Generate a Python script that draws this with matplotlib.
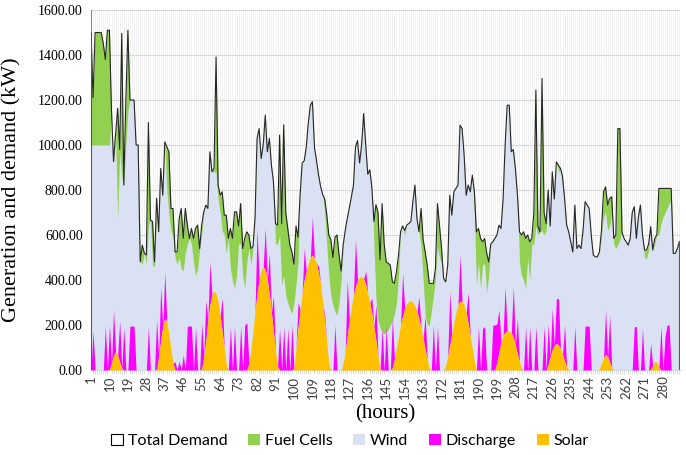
import numpy as np
import matplotlib
matplotlib.use("Agg")
import matplotlib.pyplot as plt
from matplotlib.patches import Patch

# hourly values (kW), one row per day
total_demand = np.array(
    [1500, 1210, 1500, 1500, 1500, 1500, 1450, 1380, 1510, 1510, 1150, 926, 1050, 1163, 980, 1496, 822, 1200, 1510, 1200, 1200, 1200, 1000, 1000]
    + [481, 555, 520, 511, 1100, 667, 660, 481, 763, 615, 896, 777, 1014, 992, 970, 718, 718, 525, 525, 673, 718, 585, 718, 644]
    + [585, 629, 585, 629, 644, 540, 644, 703, 733, 718, 970, 881, 896, 1391, 822, 777, 792, 688, 688, 585, 629, 585, 703, 703]
    + [640, 740, 540, 585, 614, 600, 540, 548, 673, 1029, 1073, 940, 1000, 1133, 970, 1029, 910, 836, 651, 644, 1044, 650, 1090, 700]
    + [629, 555, 525, 470, 640, 590, 780, 920, 930, 990, 1100, 1177, 1192, 990, 930, 866, 815, 780, 760, 690, 600, 580, 500, 590]
    + [600, 511, 440, 555, 620, 673, 720, 770, 820, 990, 1020, 920, 1000, 1140, 1000, 870, 890, 810, 660, 735, 700, 490, 740, 560]
    + [480, 474, 466, 392, 385, 437, 511, 614, 640, 620, 644, 651, 659, 748, 822, 673, 614, 718, 580, 525, 466, 385, 385, 385]
    + [451, 740, 640, 540, 407, 392, 466, 777, 688, 792, 807, 822, 1088, 1073, 955, 777, 822, 792, 866, 792, 614, 629, 585, 570]
    + [585, 520, 480, 560, 570, 585, 600, 644, 629, 760, 1000, 1177, 1177, 970, 980, 896, 780, 614, 600, 614, 585, 600, 570, 585]
    + [700, 1244, 640, 614, 1296, 700, 650, 800, 640, 881, 760, 925, 910, 896, 860, 763, 644, 614, 570, 525, 733, 540, 555, 540]
    + [620, 748, 733, 718, 600, 511, 503, 503, 525, 620, 792, 814, 733, 763, 770, 585, 600, 1073, 1073, 614, 585, 570, 555, 585]
    + [700, 726, 585, 680, 733, 600, 533, 533, 560, 637, 533, 585, 600, 807, 807, 807, 807, 807, 807, 807, 518, 518, 540, 570]
)

wind = np.array(
    [1000, 1000, 1000, 1000, 1000, 1000, 1000, 1000, 1000, 1000, 1150, 926, 1050, 674, 970, 860, 822, 1000, 1150, 1200, 1200, 1200, 1000, 1000]
    + [481, 470, 520, 470, 640, 667, 466, 460, 700, 615, 896, 777, 1014, 800, 690, 620, 590, 500, 470, 500, 450, 440, 520, 560]
    + [585, 560, 480, 420, 450, 540, 600, 703, 733, 718, 970, 881, 880, 880, 760, 700, 620, 600, 520, 585, 450, 400, 363, 420]
    + [560, 560, 420, 363, 480, 540, 470, 540, 673, 1029, 1073, 940, 1000, 1133, 970, 1029, 910, 836, 560, 560, 600, 380, 420, 330]
    + [300, 270, 250, 300, 380, 480, 780, 920, 930, 990, 1100, 1177, 1192, 990, 930, 866, 815, 780, 700, 560, 420, 330, 290, 260]
    + [244, 300, 400, 555, 620, 673, 720, 770, 820, 990, 1020, 920, 1000, 1140, 1000, 870, 890, 810, 560, 320, 220, 190, 170, 160]
    + [170, 180, 200, 220, 250, 300, 420, 614, 640, 600, 644, 651, 659, 748, 822, 673, 614, 550, 400, 250, 200, 200, 260, 330]
    + [400, 550, 500, 470, 407, 392, 466, 777, 688, 792, 807, 822, 1088, 1073, 955, 777, 822, 792, 866, 700, 380, 480, 363, 470]
    + [470, 345, 420, 560, 570, 585, 600, 644, 629, 760, 1000, 1177, 1177, 970, 980, 896, 780, 480, 420, 400, 363, 500, 400, 560]
    + [560, 640, 600, 614, 620, 600, 620, 780, 640, 850, 760, 925, 880, 896, 830, 763, 644, 614, 570, 525, 733, 540, 555, 540]
    + [614, 748, 733, 718, 600, 511, 503, 503, 525, 600, 680, 700, 620, 640, 700, 560, 540, 560, 580, 614, 585, 570, 555, 585]
    + [700, 726, 585, 680, 733, 600, 500, 496, 533, 637, 533, 560, 600, 600, 650, 680, 700, 720, 740, 760, 518, 518, 540, 570]
)

solar = np.array(
    [0, 0, 0, 0, 0, 0, 0, 0, 0, 3, 30, 65, 81, 65, 35, 8, 0, 0, 0, 0, 0, 0, 0, 0]
    + [0, 0, 0, 0, 0, 0, 0, 0, 5, 60, 130, 195, 230, 215, 160, 90, 30, 0, 0, 0, 0, 0, 0, 0]
    + [0, 0, 0, 0, 0, 0, 5, 60, 130, 220, 290, 335, 351, 340, 300, 240, 170, 95, 25, 0, 0, 0, 0, 0]
    + [0, 0, 0, 0, 0, 30, 90, 170, 260, 340, 400, 445, 459, 445, 400, 335, 255, 170, 85, 15, 0, 0, 0, 0]
    + [0, 0, 0, 10, 96, 190, 270, 340, 400, 440, 475, 500, 511, 495, 475, 430, 385, 300, 215, 120, 25, 0, 0, 0]
    + [0, 0, 0, 30, 80, 150, 220, 280, 330, 370, 400, 412, 415, 405, 380, 340, 300, 250, 190, 130, 60, 5, 0, 0]
    + [0, 0, 0, 10, 50, 100, 150, 200, 240, 275, 295, 305, 307, 300, 285, 260, 225, 185, 140, 90, 45, 8, 0, 0]
    + [0, 0, 0, 0, 0, 20, 60, 110, 160, 210, 255, 290, 305, 305, 290, 255, 205, 150, 95, 40, 0, 0, 0, 0]
    + [0, 0, 0, 0, 0, 0, 35, 80, 125, 155, 168, 173, 173, 165, 145, 110, 70, 35, 8, 0, 0, 0, 0, 0]
    + [0, 0, 0, 0, 0, 0, 0, 25, 60, 90, 110, 118, 112, 95, 70, 40, 15, 0, 0, 0, 0, 0, 0, 0]
    + [0, 0, 0, 0, 0, 0, 0, 0, 5, 30, 55, 70, 60, 35, 10, 0, 0, 0, 0, 0, 0, 0, 0, 0]
    + [0, 0, 0, 0, 0, 0, 0, 0, 0, 3, 20, 38, 35, 12, 0, 0, 0, 0, 0, 0, 0, 0, 0, 0]
)

discharge = np.array(
    [0, 173, 0, 0, 0, 0, 0, 193, 0, 197, 0, 200, 0, 0, 183, 0, 188, 0, 0, 195, 195, 195, 0, 0]
    + [0, 0, 0, 0, 193, 0, 0, 0, 217, 0, 236, 0, 204, 0, 0, 0, 0, 37, 0, 40, 0, 67, 0, 195]
    + [195, 195, 0, 190, 0, 0, 200, 0, 180, 0, 190, 0, 0, 0, 0, 0, 150, 0, 0, 0, 193, 0, 193, 0]
    + [0, 195, 0, 200, 210, 0, 0, 0, 0, 290, 0, 0, 0, 185, 0, 183, 0, 160, 0, 0, 185, 0, 193, 0]
    + [185, 0, 200, 0, 0, 110, 0, 0, 140, 0, 0, 0, 170, 0, 0, 30, 0, 0, 30, 0, 0, 0, 0, 200]
    + [0, 0, 0, 0, 0, 250, 0, 0, 0, 210, 0, 0, 0, 0, 60, 0, 0, 70, 0, 160, 0, 0, 185, 0]
    + [193, 0, 0, 220, 0, 0, 0, 0, 190, 0, 0, 0, 0, 0, 0, 0, 100, 0, 0, 150, 0, 0, 0, 200]
    + [0, 193, 0, 0, 0, 0, 0, 240, 0, 0, 0, 0, 205, 0, 0, 0, 140, 0, 0, 0, 0, 193, 0, 185]
    + [193, 0, 0, 0, 200, 200, 170, 187, 0, 0, 200, 0, 0, 0, 225, 0, 160, 0, 0, 0, 193, 0, 193, 0]
    + [0, 193, 0, 0, 0, 193, 0, 180, 0, 185, 0, 200, 205, 0, 0, 160, 0, 0, 0, 0, 193, 0, 0, 0]
    + [0, 195, 195, 195, 0, 0, 0, 0, 0, 0, 0, 195, 0, 210, 0, 0, 0, 0, 0, 0, 0, 0, 0, 0]
    + [0, 193, 193, 0, 0, 185, 0, 0, 0, 115, 0, 0, 0, 0, 193, 0, 150, 200, 200, 0, 0, 0, 0, 0]
)

hours = np.arange(1, len(total_demand) + 1)
tick_hours = np.arange(1, 281, 9)

c_fuel = "#92D050"
c_wind = "#D9E1F2"
c_disc = "#FF00FF"
c_solar = "#FFC000"

fig = plt.figure(figsize=(6.86, 4.55), dpi=100)
ax = fig.add_axes([91 / 686, 1 - 370 / 455, 589 / 686, 360 / 455])

# background grid: one faint line per hour plus horizontal lines every 200 kW
for h in hours:
    ax.axvline(h, color="#ECECEC", lw=0.5, zorder=0)
ax.set_yticks(np.arange(0, 1601, 200))
ax.yaxis.grid(True, color="#D9D9D9", lw=0.8, zorder=0)
ax.set_axisbelow(True)

# fuel cells cover the gap between wind and demand
ax.fill_between(hours, 0, total_demand, color=c_fuel, lw=0, zorder=2)
ax.fill_between(hours, 0, wind, color=c_wind, lw=0, zorder=3)
ax.fill_between(hours, solar, solar + discharge, color=c_disc, lw=0, zorder=4)
ax.fill_between(hours, 0, solar, color=c_solar, lw=0, zorder=5)
ax.plot(hours, total_demand, color="#262626", lw=0.8, zorder=6)
ax.vlines([hours[0], hours[-1]], 0, [total_demand[0], total_demand[-1]],
          color="#595959", lw=0.8, zorder=6)

ax.set_xlim(1, 288.3)
ax.set_ylim(0, 1600)
ax.set_xticks(tick_hours)
ax.set_xticklabels([str(h) for h in tick_hours], rotation=90,
                   fontfamily="Lato", fontsize=9.5, color="#404040")
ax.set_xticks(hours, minor=True)
ax.tick_params(axis="x", which="major", length=0, pad=4)
ax.tick_params(axis="x", which="minor", length=3, color="#D0D0D0", width=0.5)
ax.tick_params(axis="y", length=0, pad=6)
ax.set_yticklabels([f"{v:.2f}" for v in np.arange(0, 1601, 200)],
                   fontfamily="Liberation Serif", fontsize=10)

for s in ["top", "right"]:
    ax.spines[s].set_visible(False)
ax.spines["left"].set_color("#8C8C8C")
ax.spines["bottom"].set_color("#D0D0D0")

ax.set_ylabel("Generation and demand (kW)", fontfamily="Liberation Serif", fontsize=16)
ax.yaxis.set_label_coords(-0.118, 0.5)
ax.set_xlabel("(hours)", fontfamily="Liberation Serif", fontsize=15, labelpad=4)

handles = [
    Patch(facecolor="white", edgecolor="black", lw=0.8, label="Total Demand"),
    Patch(facecolor=c_fuel, label="Fuel Cells"),
    Patch(facecolor=c_wind, label="Wind"),
    Patch(facecolor=c_disc, label="Discharge"),
    Patch(facecolor=c_solar, label="Solar"),
]
fig.legend(handles=handles, loc="center", bbox_to_anchor=(350 / 686, 1 - 441 / 455),
           ncol=5, frameon=False, prop={"family": "Lato", "size": 11.5},
           handlelength=0.75, handleheight=0.75, handletextpad=0.3, columnspacing=1.3)

fig.savefig("out.png", dpi=100)
